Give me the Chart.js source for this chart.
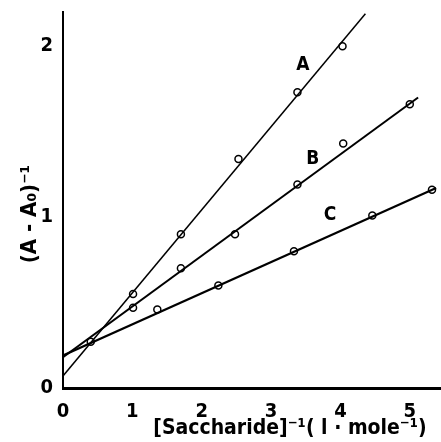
<!DOCTYPE html>
<html>
<head>
<meta charset="utf-8">
<script src="https://cdn.jsdelivr.net/npm/chart.js@4"></script>
<style>
  html, body { margin: 0; padding: 0; background: #fff; }
  canvas { display: block; }
</style>
</head>
<body>
<canvas id="plot" width="441" height="442"></canvas>
<script>
const xTicks = [0, 1, 2, 3, 4, 5];
const yTicks = [0, 1, 2];

// measured points: x = 1/[saccharide], y = 1/(A - A0)
const pointsA = [[1.01, 0.55], [1.70, 0.90], [2.53, 1.34], [3.38, 1.73], [4.03, 2.00]];
const pointsB = [[1.01, 0.47], [1.70, 0.70], [2.48, 0.90], [3.38, 1.19], [4.04, 1.43], [5.00, 1.66]];
const pointsC = [[0.40, 0.27], [1.36, 0.46], [2.24, 0.60], [3.33, 0.80], [4.46, 1.01], [5.32, 1.16]];

// fitted straight lines, start and end
const lineA = [[0, 0.07], [4.36, 2.19]];
const lineB = [[0, 0.18], [5.12, 1.70]];
const lineC = [[0, 0.19], [5.38, 1.17]];

const curveNames = ['A', 'B', 'C'];
const curveNameAt = [[3.46, 1.89], [3.60, 1.34], [3.85, 1.01]];

const xTitle = '[Saccharide]⁻¹( l · mole⁻¹)';
const yTitle = '(A - A₀)⁻¹';

const FONT = "'DejaVu Sans Condensed', 'Liberation Sans Narrow', sans-serif";

const toXY = arr => arr.map(([x, y]) => ({ x, y }));

function lineSet(pts, w) {
    return {
        data: toXY(pts),
        showLine: true,
        borderColor: '#000',
        borderWidth: w,
        pointRadius: 0,
    };
}

function pointSet(pts) {
    return {
        data: toXY(pts),
        showLine: false,
        pointRadius: 3.5,
        pointBorderWidth: 1.5,
        pointBorderColor: '#000',
        pointBackgroundColor: '#fff',
    };
}

// curve letters and axis titles
const annotate = {
    id: 'annotate',
    afterDraw(chart) {
        const { ctx, scales: { x, y } } = chart;
        ctx.save();
        ctx.fillStyle = '#000';
        ctx.textAlign = 'center';
        ctx.textBaseline = 'middle';
        ctx.font = `bold 19px ${FONT}`;
        curveNames.forEach((t, i) => {
            ctx.fillText(t, x.getPixelForValue(curveNameAt[i][0]), y.getPixelForValue(curveNameAt[i][1]));
        });
        ctx.font = `bold 21px ${FONT}`;
        ctx.fillText(xTitle, 290, 429);
        ctx.translate(30, 214);
        ctx.rotate(-Math.PI / 2);
        ctx.font = `bold 22px ${FONT}`;
        ctx.fillText(yTitle, 0, 0);
        ctx.restore();
    }
};

new Chart(document.getElementById('plot'), {
    type: 'scatter',
    data: {
        datasets: [
            lineSet(lineA, 1.5),
            lineSet(lineB, 2),
            lineSet(lineC, 2.2),
            pointSet(pointsA),
            pointSet(pointsB),
            pointSet(pointsC),
        ]
    },
    options: {
        responsive: false,
        animation: false,
        layout: { autoPadding: false, padding: { top: 12, right: 0, left: 0, bottom: 0 } },
        plugins: { legend: { display: false }, tooltip: { enabled: false } },
        scales: {
            x: {
                type: 'linear',
                min: 0,
                max: 5.45,
                afterBuildTicks: s => { s.ticks = xTicks.map(v => ({ value: v })); },
                afterFit: s => { s.height = 54; s.paddingLeft = 0; s.paddingRight = 0; },
                grid: { display: false, drawTicks: false },
                border: { display: true, color: '#000', width: 3 },
                ticks: { color: '#000', padding: 12, font: { family: FONT, size: 20, weight: 'bold' } },
            },
            y: {
                type: 'linear',
                min: 0,
                max: 2.2,
                afterBuildTicks: s => { s.ticks = yTicks.map(v => ({ value: v })); },
                afterFit: s => { s.width = 63; s.paddingTop = 0; s.paddingBottom = 0; },
                grid: { display: false, drawTicks: false },
                border: { display: true, color: '#000', width: 2 },
                ticks: { color: '#000', padding: 10, font: { family: FONT, size: 20, weight: 'bold' } },
            }
        }
    },
    plugins: [annotate]
});
</script>
</body>
</html>
